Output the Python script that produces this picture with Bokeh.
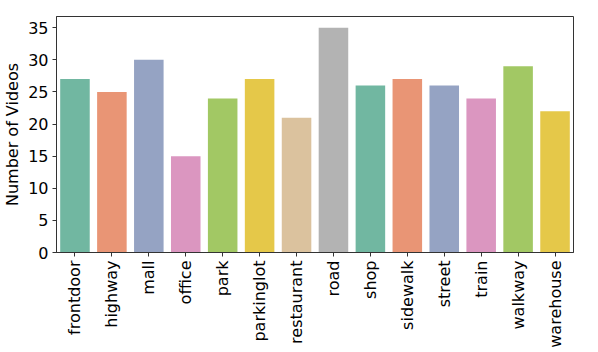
import math
from bokeh.plotting import figure
from bokeh.models import ColumnDataSource, Range1d, FactorRange, FixedTicker
from bokeh.embed import file_html
from bokeh.resources import INLINE

categories = ["frontdoor", "highway", "mall", "office", "park", "parkinglot",
              "restaurant", "road", "shop", "sidewalk", "street", "train",
              "walkway", "warehouse"]
counts = [27, 25, 30, 15, 24, 27, 21, 35, 26, 27, 26, 24, 29, 22]
palette = ["#71b7a1", "#e99575", "#95a3c3", "#db96c0", "#a2c864", "#e5c849",
           "#dbc29e", "#b3b3b3"]
colors = [palette[i % len(palette)] for i in range(len(categories))]
y_ticks = [0, 5, 10, 15, 20, 25, 30, 35]

src = ColumnDataSource(dict(cat=categories, n=counts, color=colors))

p = figure(width=590, height=350, output_backend="svg", toolbar_location=None,
           x_range=FactorRange(*categories, range_padding=0),
           y_range=Range1d(0, 36.75),
           min_border_left=53, min_border_right=17, min_border_top=16,
           min_border_bottom=97)

p.vbar(x="cat", top="n", width=0.8, color="color", line_color=None, source=src)

font = "DejaVu Sans"
fs = "16px"
p.xgrid.visible = False
p.ygrid.visible = False
p.outline_line_color = "#333333"
p.outline_line_width = 1

for ax in (p.xaxis[0], p.yaxis[0]):
    ax.axis_line_color = "#333333"
    ax.major_tick_line_color = "#333333"
    ax.major_tick_out = 4
    ax.major_tick_in = 0
    ax.minor_tick_line_color = None
    ax.major_label_text_font = font
    ax.major_label_text_font_size = fs
    ax.major_label_text_color = "black"
    ax.major_label_standoff = 4

p.yaxis.ticker = FixedTicker(ticks=y_ticks)
p.yaxis.axis_label = "Number of Videos"
p.yaxis.axis_label_text_font = font
p.yaxis.axis_label_text_font_size = fs
p.yaxis.axis_label_text_font_style = "normal"
p.yaxis.axis_label_text_color = "black"
p.yaxis.axis_label_standoff = 3
p.xaxis.major_label_orientation = math.pi / 2
p.xaxis.group_text_font_size = "0px"

open("out.html", "w").write(file_html(p, INLINE))
